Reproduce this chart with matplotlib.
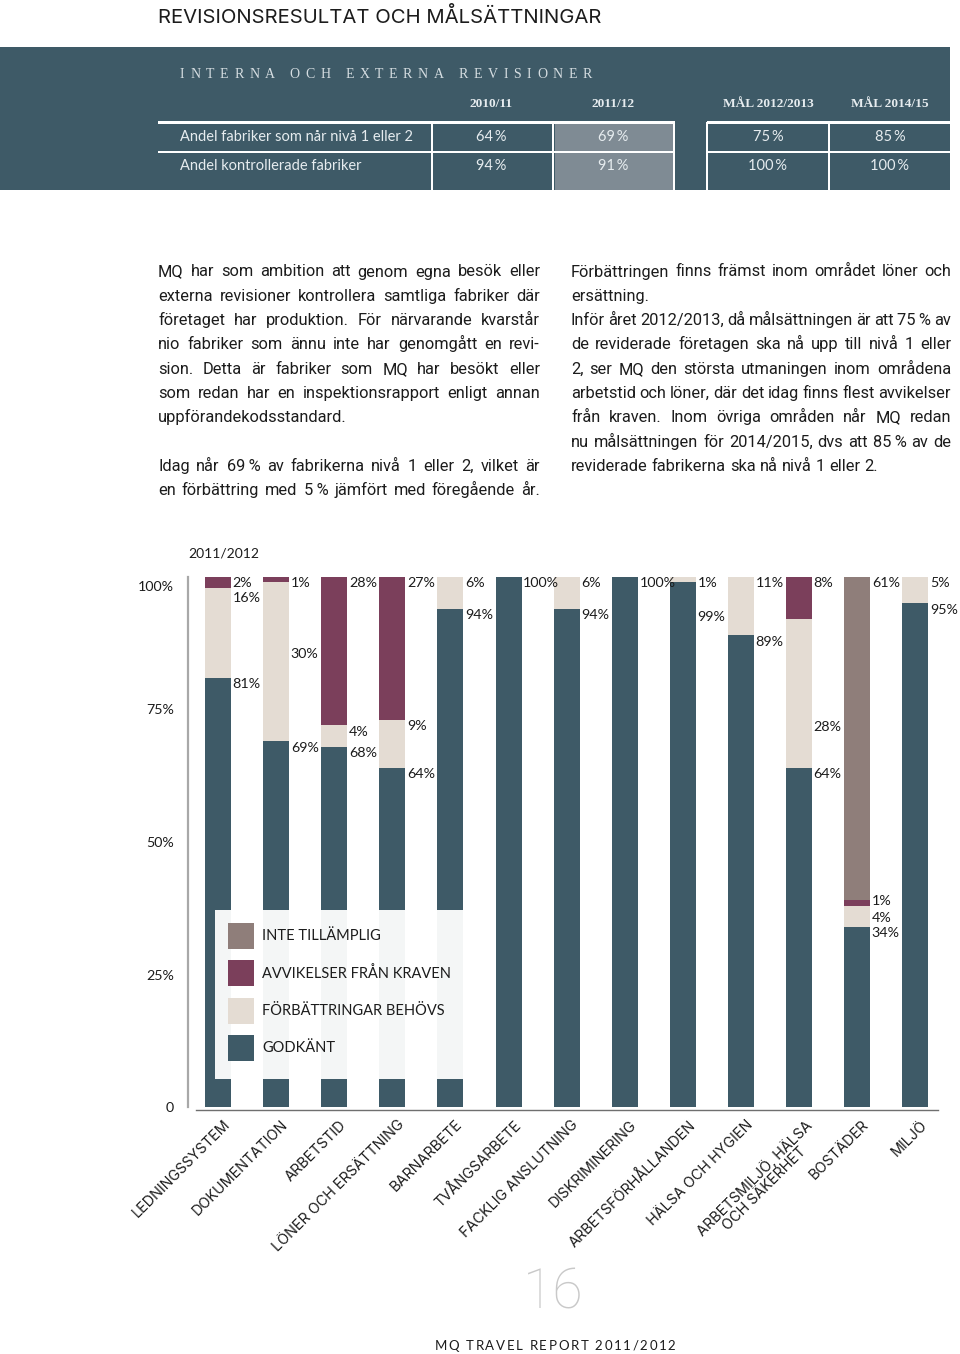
import matplotlib
matplotlib.use("Agg")
import matplotlib.pyplot as plt
from matplotlib.patches import Rectangle
from matplotlib.lines import Line2D
import matplotlib.transforms as mtransforms

# ---------------- data ----------------
page_title = "REVISIONSRESULTAT OCH MÅLSÄTTNINGAR"
table_title = "INTERNA OCH EXTERNA REVISIONER"
table_cols = ["2010/11", "2011/12", "MÅL 2012/2013", "MÅL 2014/15"]
table_rows = ["Andel fabriker som når nivå 1 eller 2", "Andel kontrollerade fabriker"]
table_values = [["64\u2009%", "69\u2009%", "75\u2009%", "85\u2009%"],
                ["94\u2009%", "91\u2009%", "100\u2009%", "100\u2009%"]]

left_lines = [
    "MQ har som ambition att genom egna besök eller",
    "externa revisioner kontrollera samtliga fabriker där",
    "företaget har produktion. För närvarande kvarstår",
    "nio fabriker som ännu inte har genomgått en revi-",
    "sion. Detta är fabriker som MQ har besökt eller",
    "som redan har en inspektionsrapport enligt annan",
    "uppförandekodsstandard.",
    "",
    "Idag når 69\u2009% av fabrikerna nivå 1 eller 2, vilket är",
    "en förbättring med 5\u2009% jämfört med föregående år.",
]
left_last = [False, False, False, False, False, False, True, True, False, False]
right_lines = [
    "Förbättringen finns främst inom området löner och",
    "ersättning.",
    "Inför året 2012/2013, då målsättningen är att 75\u2009% av",
    "de reviderade företagen ska nå upp till nivå 1 eller",
    "2, ser MQ den största utmaningen inom områdena",
    "arbetstid och löner, där det idag finns flest avvikelser",
    "från kraven. Inom övriga områden når MQ redan",
    "nu målsättningen för 2014/2015, dvs att 85\u2009% av de",
    "reviderade fabrikerna ska nå nivå 1 eller 2.",
]
right_last = [False, True, False, False, False, False, False, False, True]

period_label = "2011/2012"
categories = ["LEDNINGSSYSTEM", "DOKUMENTATION", "ARBETSTID", "LÖNER OCH ERSÄTTNING",
              "BARNARBETE", "TVÅNGSARBETE", "FACKLIG ANSLUTNING", "DISKRIMINERING",
              "ARBETSFÖRHÅLLANDEN", "HÄLSA OCH HYGIEN", "ARBETSMILJÖ, HÄLSA\nOCH SÄKERHET",
              "BOSTÄDER", "MILJÖ"]
godkant =         [81, 69, 68, 64, 94, 100, 94, 100, 99, 89, 64, 34, 95]
forbattringar =   [17, 30,  4,  9,  6,   0,  6,   0,  1, 11, 28,  4,  5]
avvikelser =      [ 2,  1, 28, 27,  0,   0,  0,   0,  0,  0,  8,  1,  0]
inte_tillamplig = [ 0,  0,  0,  0,  0,   0,  0,   0,  0,  0,  0, 61,  0]
# value labels as printed (bottom-up order: godkänt, förbättringar, avvikelser, inte tillämplig)
label_godkant = ["81%", "69%", "68%", "64%", "94%", "100%", "94%", "100%", "99%", "89%", "64%", "34%", "95%"]
label_forb =    ["16%", "30%", "4%", "9%", "6%", "", "6%", "", "1%", "11%", "28%", "4%", "5%"]
label_avv =     ["2%", "1%", "28%", "27%", "", "", "", "", "", "", "8%", "1%", ""]
label_inte =    ["", "", "", "", "", "", "", "", "", "", "", "61%", ""]
series_names = ["INTE TILLÄMPLIG", "AVVIKELSER FRÅN KRAVEN", "FÖRBÄTTRINGAR BEHÖVS", "GODKÄNT"]
y_ticks = [0, 25, 50, 75, 100]
y_ticklabels = ["0", "25%", "50%", "75%", "100%"]
footer = "MQ TRAVEL REPORT 2011/2012"
page_number = "16"

# ---------------- style ----------------
C_TEAL = "#3e5a67"
C_BEIGE = "#e4dcd3"
C_MAROON = "#7b3f5b"
C_MAUVE = "#8f7e7a"
C_GREYCELL = "#7f8b94"
C_TEXT = "#1c1c1c"
C_HEAD = "#e6ecef"
SANS = ["Lato", "DejaVu Sans"]
BODY = ["Roboto", "DejaVu Sans"]
WIDE = ["Inter", "DejaVu Sans"]
SERIF = ["Liberation Serif", "DejaVu Serif"]

W, H = 960, 1354
fig = plt.figure(figsize=(W / 100, H / 100), dpi=100)
renderer = fig.canvas.get_renderer()
PX = mtransforms.Affine2D().scale(1 / W, -1 / H).translate(0, 1) + fig.transFigure


def twidth(s, **kw):
    t = fig.text(0, 0, s, **kw)
    w = t.get_window_extent(renderer).width
    t.remove()
    return w


def fit_size(s, target, base=12.0, **kw):
    return base * target / twidth(s, fontsize=base, **kw)


def put(x, y, s, **kw):
    return fig.text(x / W, 1 - y / H, s, **kw)


def tracked(x, y, s, track=None, width=None, ha="left", **kw):
    bar = twidth("|", **kw)
    adv = [twidth(c + "|", **kw) - bar for c in s]
    if width is not None:
        track = (width - sum(adv)) / (len(s) - 1)
    total = sum(adv) + track * (len(s) - 1)
    x0 = x - total / 2 if ha == "center" else (x - total if ha == "right" else x)
    for c, a in zip(s, adv):
        if c != " ":
            put(x0, y, c, ha="left", va="center", **kw)
        x0 += a + track


def line_need(line, gapfrac, **kw):
    words = line.split(" ")
    sp = twidth("a a", **kw) - twidth("aa", **kw)
    return sum(twidth(w, **kw) for w in words) + (len(words) - 1) * gapfrac * sp


def justified(x0, x1, y, line, last=False, **kw):
    """Words placed on a common baseline y, spread to fill x0..x1."""
    if not line:
        return
    words = line.split(" ")
    ws = [twidth(w, **kw) for w in words]
    sp = twidth("a a", **kw) - twidth("aa", **kw)
    if not last and len(words) > 1:
        gap = max((x1 - x0 - sum(ws)) / (len(words) - 1), 0.5 * sp)
    else:
        gap = sp
    x = x0
    for w, wd in zip(words, ws):
        put(x, y, w, ha="left", va="baseline", **kw)
        x += wd + gap


# ---------------- page title ----------------
ts = fit_size(page_title, 444, family=WIDE)
put(158, 17, page_title, ha="left", va="center", fontsize=ts, color=C_TEXT, family=WIDE)

# ---------------- header table ----------------
fig.patches.append(Rectangle((0, 47), 950, 143, transform=PX, facecolor=C_TEAL, edgecolor="none"))
fig.patches.append(Rectangle((555, 124), 119, 66, transform=PX, facecolor=C_GREYCELL, edgecolor="none"))
for (xa, xb) in [(158, 675), (707, 950)]:
    fig.patches.append(Rectangle((xa, 120.5), xb - xa, 3.5, transform=PX, facecolor="white", edgecolor="none"))
    fig.patches.append(Rectangle((xa, 151), xb - xa, 2, transform=PX, facecolor="white", edgecolor="none"))
for xv in [432, 553, 674, 707, 829]:
    fig.patches.append(Rectangle((xv - 1, 122), 2, 68, transform=PX, facecolor="white", edgecolor="none"))

tracked(180, 75, table_title, width=412, fontsize=10, color="#d5dde1", family=SERIF)
col_x = [491, 613, 768, 890]
for cx, cname in zip(col_x, table_cols):
    put(cx, 104, cname, ha="center", va="center", fontsize=9.6, fontweight="bold",
        color=C_HEAD, family=SERIF)
row_y = [137, 166]
for ry, rname, vals in zip(row_y, table_rows, table_values):
    put(180, ry, rname, ha="left", va="center", fontsize=10.5, color=C_HEAD, family=SANS)
    for cx, v in zip(col_x, vals):
        put(cx, ry, v, ha="center", va="center", fontsize=10.5, color=C_HEAD, family=SANS)

# ---------------- body text ----------------
ratios = []
for lines, lasts, width in [(left_lines, left_last, 382), (right_lines, right_last, 380)]:
    for ln, last in zip(lines, lasts):
        if ln and not last:
            ratios.append(width / line_need(ln, 0.85, fontsize=12, family=BODY))
bs = 12 * min(ratios)
LH = 24.3
BASE = 276.5
for k, (ln, last) in enumerate(zip(left_lines, left_last)):
    justified(158, 540, BASE + LH * k, ln, last, fontsize=bs, color=C_TEXT, family=BODY)
for k, (ln, last) in enumerate(zip(right_lines, right_last)):
    justified(571, 951, BASE + LH * k, ln, last, fontsize=bs, color=C_TEXT, family=BODY)

# ---------------- chart ----------------
pitch, c0 = 58.1, 218.0
x_left, x_right = 188, 940
y_top, y_base = 577, 1107
ax = fig.add_axes([x_left / W, 1 - y_base / H, (x_right - x_left) / W, (y_base - y_top) / H])
ax.set_xlim((x_left - c0) / pitch, (x_right - c0) / pitch)
ax.set_ylim(0, 100)
bw = 26 / pitch
n = len(categories)
xs = list(range(n))

stack = [godkant, forbattringar, avvikelser, inte_tillamplig]
labels = [label_godkant, label_forb, label_avv, label_inte]
colors = [C_TEAL, C_BEIGE, C_MAROON, C_MAUVE]
bottom = [0] * n
tops = []
for vals, col in zip(stack, colors):
    ax.bar(xs, vals, bw, bottom=bottom, color=col, edgecolor="none", zorder=2)
    bottom = [b + v for b, v in zip(bottom, vals)]
    tops.append(list(bottom))

# value labels: centre just below each segment's upper boundary
override = {(0, 1): 96.0, (1, 1): 85.5, (8, 0): 92.5, (10, 1): 71.7, (11, 2): 38.9, (11, 1): 35.7}
for si in range(4):
    for i in range(n):
        txt = labels[si][i]
        if not txt:
            continue
        yv = override.get((i, si), tops[si][i] - 1.2)
        ax.text(i + bw / 2 + 0.03, yv, txt, ha="left", va="center", fontsize=10.3,
                color=C_TEXT, family=SANS, zorder=3, clip_on=False)

# category labels
for i, cat in enumerate(categories):
    ax.text(i + 0.08, -2.0, cat, rotation=45, rotation_mode="anchor", ha="right", va="top",
            multialignment="center", fontsize=10.4, color=C_TEXT, family=WIDE, clip_on=False,
            linespacing=0.95)

ax.set_yticks(y_ticks)
ax.set_yticklabels(y_ticklabels, fontsize=10.3, color=C_TEXT, family=SANS)
ax.tick_params(axis="y", length=0, pad=10)
ytl = ax.get_yticklabels()
ytl[-1].set_transform(ytl[-1].get_transform() +
                      mtransforms.ScaledTranslation(0, -9 / 100, fig.dpi_scale_trans))
ax.set_xticks([])
for s in ["top", "right", "bottom"]:
    ax.spines[s].set_visible(False)
ax.spines["left"].set_color("#a8a8a8")
ax.spines["left"].set_linewidth(1.6)
ax.patch.set_alpha(0)

# baseline
fig.lines.append(Line2D([196, 938], [1109.5, 1109.5], transform=PX, color="#6f6f6f", lw=1.0))

put(188, 553, period_label, ha="left", va="center", fontsize=10, color=C_TEXT, family=SANS)

# legend box (semi-opaque panel over the first bars)
leg_colors = [C_MAUVE, C_MAROON, C_BEIGE, C_TEAL]
fig.patches.append(Rectangle((215, 910), 250, 169, transform=PX, facecolor="white",
                             alpha=0.95, edgecolor="none", zorder=5))
for k, (nm, col) in enumerate(zip(series_names, leg_colors)):
    yc = 936 + 37.3 * k
    fig.patches.append(Rectangle((228, yc - 13), 26, 26, transform=PX, facecolor=col,
                                 edgecolor="none", zorder=6))
    t = put(262, yc, nm, ha="left", va="center", fontsize=10.5, color=C_TEXT, family=SANS)
    t.set_zorder(7)

# ---------------- footer ----------------
put(553, 1293, page_number, ha="center", va="center", fontsize=40, color="#c9c9c9",
    family=BODY, fontweight="light")
tracked(555, 1346, footer, width=241, ha="center", fontsize=9.5, color=C_TEXT, family=SANS)

fig.savefig("out.png", dpi=100)
